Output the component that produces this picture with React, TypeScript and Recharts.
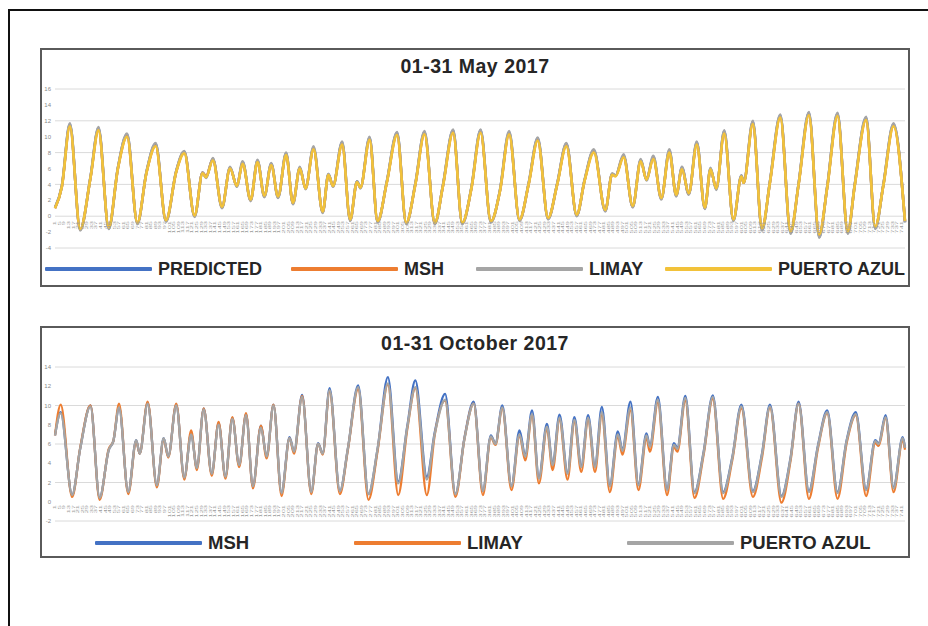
import { LineChart, Line, XAxis, YAxis, CartesianGrid } from 'recharts';

// hour of month (1..744) at each turning point
const MAY_HOURS = [
  1, 7, 14, 23, 32, 39, 48, 56, 64, 73,
  81, 89, 98, 107, 114, 123, 130, 133, 139, 147,
  154, 160, 165, 172, 178, 184, 190, 196, 203, 209,
  215, 220, 227, 235, 240, 244, 252, 259, 265, 268,
  276, 283, 291, 300, 308, 316, 324, 333, 340, 349,
  357, 365, 373, 382, 390, 398, 407, 415, 423, 432,
  440, 448, 457, 464, 472, 482, 488, 491, 498, 506,
  513, 518, 524, 531, 538, 544, 549, 555, 562, 569,
  574, 579, 586, 594, 601, 603, 611, 619, 626, 635,
  644, 651, 660, 669, 676, 685, 694, 700, 710, 718,
  725, 734, 744,
];
const MAY_PREDICTED = [
  1.1, 3.8, 11.6, -1.7, 4.9, 11.1, -1.5, 6.1, 10.3, -0.9,
  5.6, 9.1, -0.6, 5.7, 8.1, 0.0, 5.5, 4.9, 7.2, 1.1,
  6.1, 3.8, 6.8, 2.0, 7.0, 2.5, 6.6, 2.4, 7.9, 1.6,
  6.1, 3.5, 8.6, 0.5, 5.3, 3.8, 9.3, -0.5, 4.4, 3.6,
  9.9, -0.7, 4.3, 10.5, -0.9, 4.1, 10.6, -0.9, 3.8, 10.8,
  -0.9, 3.6, 10.8, -0.7, 3.3, 10.6, -0.5, 4.1, 9.8, -0.3,
  4.1, 9.1, 0.1, 4.6, 8.3, 0.7, 5.3, 5.1, 7.6, 1.2,
  7.1, 4.6, 7.5, 2.2, 8.3, 2.6, 6.1, 2.8, 9.3, 1.0,
  6.0, 3.4, 10.7, -0.5, 5.1, 4.2, 11.9, -1.7, 4.4, 12.7,
  -2.1, 4.1, 13.0, -2.6, 3.7, 12.9, -2.1, 3.9, 12.4, -1.5,
  3.9, 11.6, -0.7,
];
const MAY_MSH = [
  1.0, 3.7, 11.4, -1.7, 4.8, 10.9, -1.5, 6.0, 10.1, -0.9,
  5.5, 8.9, -0.6, 5.6, 8.1, 0.0, 5.5, 5.0, 7.2, 1.1,
  6.1, 3.8, 6.7, 2.0, 6.9, 2.5, 6.5, 2.4, 7.8, 1.6,
  6.1, 3.5, 8.5, 0.5, 5.2, 3.8, 9.1, -0.5, 4.3, 3.6,
  9.7, -0.7, 4.2, 10.3, -0.9, 4.0, 10.4, -0.9, 3.7, 10.6,
  -0.9, 3.5, 10.6, -0.7, 3.2, 10.4, -0.5, 4.0, 9.6, -0.3,
  4.0, 9.0, 0.1, 4.5, 8.2, 0.7, 5.3, 5.1, 7.6, 1.2,
  7.0, 4.6, 7.3, 2.2, 8.1, 2.6, 6.0, 2.8, 9.1, 1.0,
  5.9, 3.5, 10.5, -0.5, 5.0, 4.2, 11.7, -1.6, 4.3, 12.5,
  -2.0, 4.0, 12.8, -2.4, 3.6, 12.7, -2.0, 3.8, 12.2, -1.4,
  3.8, 11.4, -0.7,
];
const MAY_LIMAY = [
  1.0, 3.8, 11.7, -1.8, 4.9, 11.2, -1.6, 6.1, 10.4, -1.0,
  5.6, 9.2, -0.7, 5.7, 8.2, -0.1, 5.5, 4.8, 7.3, 1.0,
  6.2, 3.7, 6.9, 1.9, 7.1, 2.4, 6.7, 2.3, 8.0, 1.5,
  6.2, 3.4, 8.8, 0.4, 5.3, 3.7, 9.4, -0.6, 4.4, 3.5,
  10.0, -0.8, 4.3, 10.6, -1.0, 4.1, 10.7, -1.0, 3.8, 10.9,
  -1.0, 3.6, 10.9, -0.8, 3.3, 10.7, -0.6, 4.1, 9.9, -0.4,
  4.1, 9.2, 0.0, 4.6, 8.4, 0.6, 5.4, 5.1, 7.8, 1.1,
  7.2, 4.5, 7.6, 2.1, 8.4, 2.5, 6.2, 2.7, 9.4, 0.9,
  6.1, 3.3, 10.8, -0.6, 5.1, 4.2, 12.0, -1.8, 4.4, 12.8,
  -2.2, 4.1, 13.1, -2.7, 3.7, 13.0, -2.2, 3.9, 12.5, -1.6,
  3.9, 11.7, -0.8,
];
const MAY_PUERTO_AZUL = [
  1.0, 3.7, 11.3, -1.6, 4.8, 10.8, -1.4, 6.0, 10.0, -0.8,
  5.5, 8.8, -0.5, 5.6, 7.9, 0.1, 5.4, 4.9, 7.0, 1.2,
  6.0, 3.8, 6.6, 2.1, 6.8, 2.6, 6.4, 2.5, 7.7, 1.7,
  6.0, 3.5, 8.4, 0.6, 5.2, 3.8, 9.0, -0.4, 4.3, 3.6,
  9.6, -0.6, 4.2, 10.2, -0.8, 4.0, 10.3, -0.8, 3.7, 10.5,
  -0.8, 3.5, 10.5, -0.6, 3.2, 10.3, -0.4, 4.0, 9.5, -0.2,
  4.0, 8.8, 0.2, 4.5, 8.0, 0.8, 5.2, 5.0, 7.4, 1.3,
  6.9, 4.6, 7.2, 2.3, 8.0, 2.7, 5.9, 2.9, 9.0, 1.1,
  5.9, 3.5, 10.4, -0.4, 5.0, 4.2, 11.6, -1.5, 4.3, 12.4,
  -1.9, 4.0, 12.7, -2.3, 3.6, 12.6, -1.9, 3.8, 12.1, -1.3,
  3.8, 11.3, -0.6,
];

const OCT_HOURS = [
  1, 6, 16, 23, 32, 40, 48, 52, 57, 65,
  72, 75, 82, 90, 96, 100, 107, 114, 120, 125,
  131, 138, 144, 150, 156, 162, 168, 174, 181, 186,
  192, 199, 206, 210, 217, 225, 231, 235, 241, 250,
  257, 266, 275, 283, 292, 301, 309, 316, 326, 333,
  342, 351, 359, 367, 375, 382, 386, 392, 400, 407,
  412, 418, 424, 431, 436, 442, 449, 455, 461, 467,
  473, 479, 486, 493, 497, 504, 511, 518, 521, 528,
  536, 542, 545, 552, 560, 568, 576, 585, 593, 601,
  611, 619, 626, 636, 644, 651, 660, 668, 676, 685,
  693, 701, 710, 718, 721, 727, 734, 742, 744,
];
const OCT_MSH = [
  6.9, 9.3, 0.7, 5.5, 10.0, 0.4, 5.4, 6.3, 9.8, 1.0,
  6.4, 5.0, 10.3, 1.7, 6.6, 4.7, 10.1, 2.5, 7.1, 3.5,
  9.7, 2.9, 8.2, 2.6, 8.7, 3.8, 9.1, 1.6, 7.9, 4.7,
  10.1, 0.9, 6.7, 5.2, 11.1, 1.0, 6.1, 5.0, 11.8, 1.1,
  5.5, 12.1, 0.8, 5.5, 12.95, 2.1, 7.9, 12.6, 2.6, 7.25,
  11.2, 0.8, 6.7, 10.4, 1.1, 6.9, 6.05, 10.0, 1.6, 7.4,
  4.8, 9.5, 2.5, 8.1, 3.9, 9.05, 3.0, 8.8, 3.7, 9.0,
  3.7, 9.85, 1.7, 7.3, 5.4, 10.4, 1.8, 7.1, 5.8, 10.9,
  1.3, 6.1, 5.6, 11.0, 1.0, 5.2, 11.05, 1.0, 4.6, 10.1,
  1.1, 5.0, 10.1, 0.6, 4.6, 10.4, 1.1, 5.9, 9.5, 1.0,
  6.4, 9.3, 1.3, 6.4, 6.1, 9.0, 1.5, 6.7, 5.6,
];
const OCT_LIMAY = [
  6.9, 10.1, 0.5, 5.6, 10.0, 0.2, 5.5, 6.3, 10.2, 0.8,
  6.3, 5.0, 10.4, 1.5, 6.5, 4.6, 10.2, 2.3, 7.4, 3.3,
  9.7, 2.7, 8.3, 2.4, 8.8, 3.6, 9.2, 1.4, 7.9, 4.5,
  10.1, 0.6, 6.6, 5.0, 11.0, 0.8, 6.0, 4.9, 11.5, 0.8,
  5.4, 11.7, 0.2, 5.3, 12.2, 0.7, 7.6, 11.8, 0.7, 7.0,
  10.5, 0.5, 6.6, 10.2, 0.7, 6.7, 5.9, 9.7, 1.2, 6.9,
  4.3, 9.0, 1.9, 7.6, 3.3, 8.5, 2.3, 8.3, 3.1, 8.5,
  3.1, 9.0, 1.0, 6.8, 4.9, 9.5, 1.2, 6.6, 5.2, 10.3,
  0.7, 5.7, 5.2, 10.5, 0.4, 4.9, 10.7, 0.3, 4.3, 9.7,
  0.5, 4.6, 9.8, -0.1, 4.3, 10.2, 0.3, 5.6, 9.2, 0.3,
  6.1, 9.0, 0.6, 6.1, 5.8, 8.7, 1.0, 6.4, 5.4,
];
const OCT_PUERTO_AZUL = [
  6.9, 9.2, 0.7, 5.5, 9.9, 0.4, 5.4, 6.3, 9.8, 1.0,
  6.4, 5.0, 10.2, 1.7, 6.6, 4.7, 10.0, 2.5, 7.0, 3.5,
  9.6, 2.9, 8.0, 2.6, 8.6, 3.8, 9.0, 1.6, 7.7, 4.7,
  10.0, 0.9, 6.6, 5.2, 10.9, 1.0, 6.0, 5.0, 11.6, 1.1,
  5.5, 11.9, 0.8, 5.5, 12.3, 1.9, 7.8, 11.9, 2.3, 7.1,
  10.6, 0.8, 6.6, 10.2, 1.1, 6.8, 6.0, 9.8, 1.6, 7.0,
  4.7, 9.1, 2.4, 7.8, 3.8, 8.7, 2.9, 8.5, 3.6, 8.7,
  3.6, 9.3, 1.6, 7.0, 5.3, 9.8, 1.7, 6.9, 5.7, 10.6,
  1.2, 5.9, 5.5, 10.8, 0.9, 5.1, 10.9, 0.9, 4.5, 9.9,
  1.0, 4.9, 9.9, 0.5, 4.5, 10.2, 1.0, 5.8, 9.3, 0.9,
  6.3, 9.1, 1.2, 6.3, 6.0, 8.8, 1.4, 6.6, 5.6,
];

const MAY_Y_TICKS = [-4, -2, 0, 2, 4, 6, 8, 10, 12, 14, 16];
const OCT_Y_TICKS = [-2, 0, 2, 4, 6, 8, 10, 12, 14];
// hour labels along the category axis, every 4th hour
const HOUR_TICKS = Array.from({ length: 186 }, (_, i) => 1 + i * 4);

const BLUE = '#4472C4';
const ORANGE = '#ED7D31';
const GRAY = '#A5A5A5';
const YELLOW = '#F2C23A';

const maySeries = [
  { key: 'predicted', label: 'PREDICTED', color: BLUE, values: MAY_PREDICTED },
  { key: 'msh', label: 'MSH', color: ORANGE, values: MAY_MSH },
  { key: 'limay', label: 'LIMAY', color: GRAY, values: MAY_LIMAY },
  { key: 'puerto', label: 'PUERTO AZUL', color: YELLOW, values: MAY_PUERTO_AZUL },
];
const octSeries = [
  { key: 'msh', label: 'MSH', color: BLUE, values: OCT_MSH },
  { key: 'limay', label: 'LIMAY', color: ORANGE, values: OCT_LIMAY },
  { key: 'puerto', label: 'PUERTO AZUL', color: GRAY, values: OCT_PUERTO_AZUL },
];

const FONT = '"Liberation Sans", Arial, sans-serif';

function buildRows(hours: number[], series: { key: string; values: number[] }[]) {
  return hours.map((h, i) => {
    const row: any = { h };
    series.forEach((s) => { row[s.key] = s.values[i]; });
    return row;
  });
}

// tiny rotated hour labels, hung just under the zero line like in Excel
const HourTick = ({ x, y, payload, lift }: any) => (
  <text
    transform={`translate(${x + 1.2},${y - lift}) rotate(-90) scale(1,0.55)`}
    textAnchor="end"
    fontSize={7.5}
    fill="#9a9a9a"
    fontFamily={FONT}
  >
    {payload.value}
  </text>
);

interface PanelProps {
  top: number;
  height: number;
  title: string;
  titleY: number;
  series: { key: string; label: string; color: string; values: number[] }[];
  hours: number[];
  domain: [number, number];
  yTicks: number[];
  chartHeight: number;
  marginTop: number;
  marginBottom: number;
  tickLift: number;
  lineWidth: number;
  legendY: number;
  legendLeft: number[];
  legendSize: number;
}

function Panel(p: PanelProps) {
  const data = buildRows(p.hours, p.series);
  return (
    <div
      style={{
        position: 'absolute', left: 40, top: p.top, width: 870, height: p.height,
        border: '2px solid #5a5a5a', boxSizing: 'border-box', background: '#fff',
      }}
    >
      <div
        style={{
          position: 'absolute', left: 0, right: 0, top: p.titleY, textAlign: 'center',
          fontFamily: FONT, fontWeight: 700, fontSize: 19.5, letterSpacing: 0.5,
          color: '#262626', lineHeight: '22px',
        }}
      >
        {p.title}
      </div>
      <div style={{ position: 'absolute', left: 0, top: 0 }}>
        <LineChart
          width={866}
          height={p.chartHeight}
          data={data}
          margin={{ top: p.marginTop, right: 3, bottom: p.marginBottom, left: 0 }}
        >
          <CartesianGrid horizontal vertical={false} stroke="#dadada" strokeWidth={1} />
          <XAxis
            dataKey="h"
            type="number"
            domain={[1, 744]}
            ticks={HOUR_TICKS}
            interval={0}
            axisLine={false}
            tickLine={false}
            tickSize={0}
            tickMargin={0}
            height={30}
            tick={<HourTick lift={p.tickLift} />}
          />
          <YAxis
            domain={p.domain}
            ticks={p.yTicks}
            width={13}
            axisLine={false}
            tickLine={false}
            tickSize={0}
            tickMargin={4}
            tick={{ fontSize: 6, fill: '#8a8a8a', fontFamily: FONT }}
          />
          {p.series.map((s) => (
            <Line
              key={s.key}
              dataKey={s.key}
              type="monotone"
              stroke={s.color}
              strokeWidth={p.lineWidth}
              dot={false}
              activeDot={false}
              isAnimationActive={false}
            />
          ))}
        </LineChart>
      </div>
      {p.series.map((s, i) => (
        <div
          key={s.key}
          style={{
            position: 'absolute', left: p.legendLeft[i], top: p.legendY - 11, height: 22,
            display: 'flex', alignItems: 'center', whiteSpace: 'nowrap',
          }}
        >
          <div style={{ width: 107, height: 4, background: s.color, borderRadius: 1 }} />
          <span
            style={{
              marginLeft: 6, fontFamily: FONT, fontWeight: 700, fontSize: p.legendSize, color: '#262626',
            }}
          >
            {s.label}
          </span>
        </div>
      ))}
    </div>
  );
}

export default function App() {
  return (
    <div style={{ position: 'absolute', left: 0, top: 0, width: 928, height: 626, background: '#fff', overflow: 'hidden' }}>
      <div
        style={{
          position: 'absolute', left: 8, top: 9, width: 940, height: 640,
          borderLeft: '2px solid #111', borderTop: '2px solid #111',
        }}
      />
      <Panel
        top={48}
        height={239}
        title="01-31 May 2017"
        titleY={5}
        series={maySeries}
        hours={MAY_HOURS}
        domain={[-4, 16]}
        yTicks={MAY_Y_TICKS}
        chartHeight={232}
        marginTop={39}
        marginBottom={4}
        tickLift={27}
        lineWidth={2.6}
        legendY={219}
        legendLeft={[3, 249, 434, 623]}
        legendSize={18}
      />
      <Panel
        top={326}
        height={232}
        title="01-31 October 2017"
        titleY={4}
        series={octSeries}
        hours={OCT_HOURS}
        domain={[-2, 14]}
        yTicks={OCT_Y_TICKS}
        chartHeight={226}
        marginTop={39}
        marginBottom={3}
        tickLift={16}
        lineWidth={2.3}
        legendY={215}
        legendLeft={[53, 312, 585]}
        legendSize={18.5}
      />
    </div>
  );
}
